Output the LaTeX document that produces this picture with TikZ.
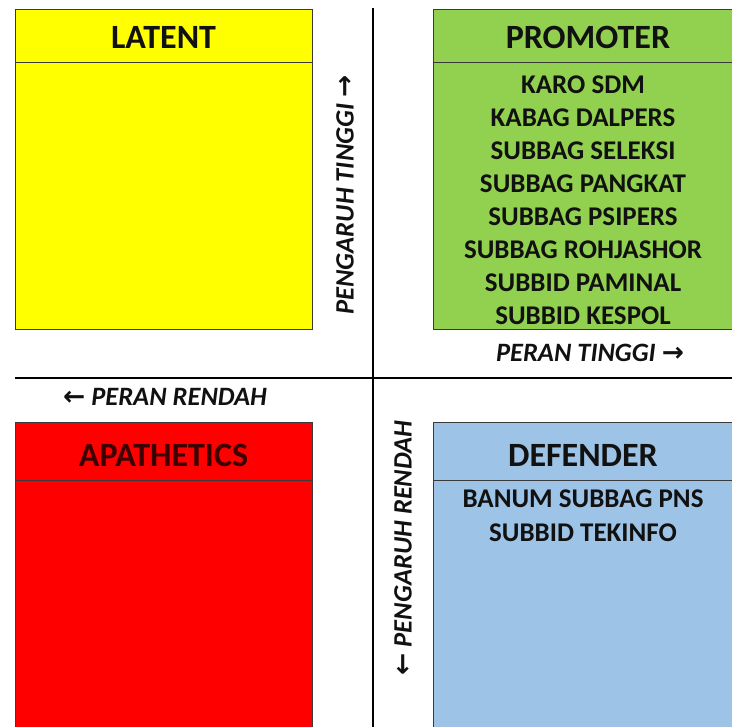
\documentclass[tikz,border=0pt]{standalone}
\usepackage{fontspec}
\setmainfont{Carlito}
\newfontfamily\arrowfont{DejaVu Sans}
\definecolor{latentyellow}{HTML}{FFFF00}
\definecolor{promgreen}{HTML}{92D050}
\definecolor{apred}{HTML}{FF0000}
\definecolor{defblue}{HTML}{9DC3E6}
\definecolor{boxline}{HTML}{3A3A3A}
\definecolor{txt}{HTML}{111111}
\tikzset{
  quad/.style={draw=boxline, line width=1pt},
  titletext/.style={font=\fontsize{34}{34}\selectfont\bfseries, text=txt, inner sep=0pt},
  itemtext/.style={font=\fontsize{27}{27}\selectfont\bfseries, text=txt, inner sep=0pt},
  axistext/.style={font=\fontsize{26.5}{26.5}\selectfont\bfseries\itshape, text=txt, inner sep=0pt},
  axisline/.style={draw=black, line width=2.2pt}
}
\begin{document}
\begin{tikzpicture}[x=1pt,y=-1pt]
\useasboundingbox (0,0) rectangle (732,727);
\fill[white] (0,0) rectangle (732,727);

% axis lines
\coordinate (vtop) at (373,8);
\coordinate (vbot) at (373,727);
\coordinate (hleft) at (15,378);
\coordinate (hright) at (732,378);
\draw[axisline] (vtop) -- (vbot);
\draw[axisline] (hleft) -- (hright);

% LATENT
\path[quad, fill=latentyellow] (15,10) rectangle (312,330);
\draw[quad] (15,63) -- (312,63);
\node[titletext] (latent) at (163.5,37) {LATENT};

% PROMOTER
\path[quad, fill=promgreen] (433,10) rectangle (733,330);
\draw[quad] (433,63) -- (733,63);
\node[titletext] (promoter) at (588,37) {PROMOTER};
\node[itemtext] (p1) at (583,85) {KARO SDM};
\node[itemtext] (p2) at (583,118) {KABAG DALPERS};
\node[itemtext] (p3) at (583,151) {SUBBAG SELEKSI};
\node[itemtext] (p4) at (583,184) {SUBBAG PANGKAT};
\node[itemtext] (p5) at (583,217) {SUBBAG PSIPERS};
\node[itemtext] (p6) at (583,250) {SUBBAG ROHJASHOR};
\node[itemtext] (p7) at (583,283) {SUBBID PAMINAL};
\node[itemtext] (p8) at (583,316) {SUBBID KESPOL};

% APATHETICS
\path[quad, fill=apred] (15,423) rectangle (312,728);
\draw[quad] (15,481) -- (312,481);
\node[titletext, text={rgb,255:red,60;green,0;blue,0}] (apathetics) at (163.5,455) {APATHETICS};

% DEFENDER
\path[quad, fill=defblue] (433,423) rectangle (733,728);
\draw[quad] (433,481) -- (733,481);
\node[titletext] (defender) at (583,455) {DEFENDER};
\node[itemtext] (d1) at (583,499) {BANUM SUBBAG PNS};
\node[itemtext] (d2) at (583,533) {SUBBID TEKINFO};

% axis labels
\node[axistext] (perantinggi) at (590,353) {PERAN TINGGI {\arrowfont\bfseries →}};
\node[axistext] (peranrendah) at (165,397) {{\arrowfont\bfseries ←} PERAN RENDAH};
\node[axistext, rotate=90] (pengaruhtinggi) at (345,195) {PENGARUH TINGGI {\arrowfont\bfseries →}};
\node[axistext, rotate=90] (pengaruhrendah) at (403,548) {{\arrowfont\bfseries ←} PENGARUH RENDAH};
\end{tikzpicture}
\end{document}
